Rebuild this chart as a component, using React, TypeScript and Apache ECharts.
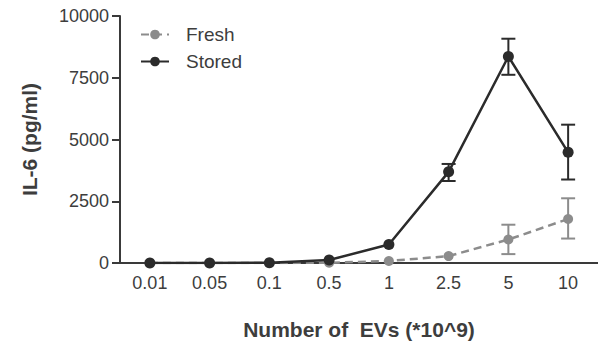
import React, { useEffect, useRef } from "react";
import * as echarts from "echarts";

const categories = ["0.01", "0.05", "0.1", "0.5", "1", "2.5", "5", "10"];
const freshMean = [0, 0, 0, 10, 80, 280, 950, 1780];
const freshLow = [0, 0, 0, 10, 80, 280, 360, 990];
const freshHigh = [0, 0, 0, 10, 80, 280, 1550, 2620];
const storedMean = [0, 0, 10, 120, 750, 3690, 8360, 4480];
const storedLow = [0, 0, 10, 120, 750, 3320, 7620, 3380];
const storedHigh = [0, 0, 10, 120, 750, 4010, 9080, 5600];
const yTicks = [0, 2500, 5000, 7500, 10000];

const STORED = "#2b2b2b";
const FRESH = "#8c8c8c";
const TEXT = "#3d3d3d";
const FONT = "'Liberation Sans', Arial, sans-serif";

function errorSeries(name: string, low: number[], high: number[], color: string) {
  const data = categories.map((_, i) => [i, low[i], high[i]]).filter((d) => d[2] - d[1] > 50);
  return {
    type: "custom",
    name: name + "-err",
    z: 3,
    silent: true,
    renderItem: (params: any, api: any) => {
      const x = api.value(0);
      const lo = api.coord([x, api.value(1)]);
      const hi = api.coord([x, api.value(2)]);
      const hw = 7;
      const style = { stroke: color, lineWidth: 2, fill: "none" };
      return {
        type: "group",
        children: [
          { type: "line", shape: { x1: lo[0], y1: lo[1], x2: hi[0], y2: hi[1] }, style },
          { type: "line", shape: { x1: lo[0] - hw, y1: lo[1], x2: lo[0] + hw, y2: lo[1] }, style },
          { type: "line", shape: { x1: hi[0] - hw, y1: hi[1], x2: hi[0] + hw, y2: hi[1] }, style },
        ],
      };
    },
    encode: { x: 0, y: [1, 2] },
    data,
  };
}

export default function App() {
  const ref = useRef<HTMLDivElement>(null);
  useEffect(() => {
    if (!ref.current) return;
    const chart = echarts.init(ref.current, undefined, { renderer: "svg" });
    chart.setOption({
      animation: false,
      backgroundColor: "#ffffff",
      grid: { left: 120, right: -4, top: 16, bottom: 78, containLabel: false },
      legend: {
        left: 135,
        top: 20,
        orient: "vertical",
        itemWidth: 28,
        itemHeight: 12,
        itemGap: 8,
        data: ["Fresh", "Stored"],
        textStyle: { fontSize: 19, color: TEXT, fontFamily: FONT, padding: [0, 0, 0, 12] },
      },
      xAxis: {
        type: "category",
        data: categories,
        boundaryGap: true,
        name: "Number of  EVs (*10^9)",
        nameLocation: "middle",
        nameGap: 56,
        nameTextStyle: { fontSize: 21, fontWeight: "bold", color: TEXT, fontFamily: FONT },
        axisLine: { lineStyle: { color: "#3a3a3a", width: 2 } },
        axisTick: { alignWithLabel: true, length: 6, lineStyle: { color: "#3a3a3a", width: 2 } },
        axisLabel: { fontSize: 18, color: TEXT, fontFamily: FONT, margin: 11 },
        splitLine: { show: false },
      },
      yAxis: {
        type: "value",
        min: yTicks[0],
        max: yTicks[yTicks.length - 1],
        interval: 2500,
        name: "IL-6 (pg/ml)",
        nameLocation: "middle",
        nameGap: 80,
        nameRotate: 90,
        nameTextStyle: { fontSize: 21, fontWeight: "bold", color: TEXT, fontFamily: FONT },
        axisLine: { show: true, lineStyle: { color: "#3a3a3a", width: 2 } },
        axisTick: { show: true, length: 8, lineStyle: { color: "#3a3a3a", width: 2 } },
        axisLabel: { fontSize: 18, color: TEXT, fontFamily: FONT, margin: 11, formatter: (v: number) => String(v) },
        splitLine: { show: false },
      },
      series: [
        {
          name: "Fresh",
          type: "line",
          data: freshMean,
          symbol: "circle",
          symbolSize: 10,
          itemStyle: { color: FRESH },
          lineStyle: { color: FRESH, width: 2.5, type: [8, 5] },
          z: 2,
        },
        {
          name: "Stored",
          type: "line",
          data: storedMean,
          symbol: "circle",
          symbolSize: 11,
          itemStyle: { color: STORED },
          lineStyle: { color: STORED, width: 2.5 },
          z: 4,
        },
        errorSeries("Fresh", freshLow, freshHigh, FRESH),
        errorSeries("Stored", storedLow, storedHigh, STORED),
      ],
    });
    return () => chart.dispose();
  }, []);
  return (
    <div
      ref={ref}
      style={{ position: "fixed", left: 0, top: 0, width: 598, height: 345 }}
    />
  );
}
